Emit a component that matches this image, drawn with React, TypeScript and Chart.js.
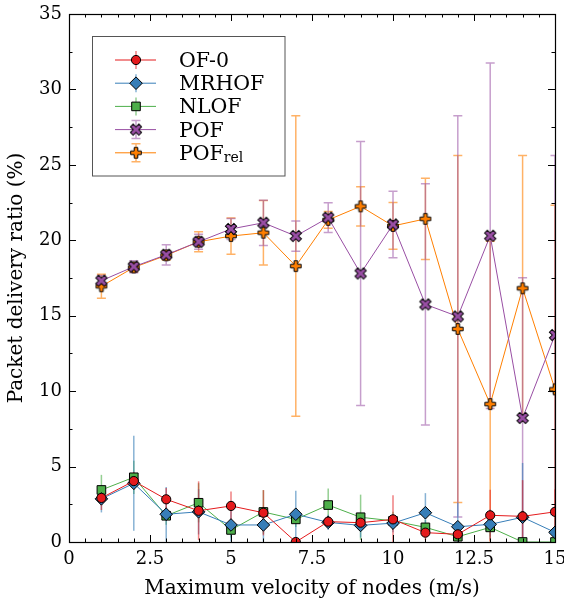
import React, { useEffect, useRef } from "react";
import { Chart, registerables } from "chart.js";

Chart.register(...registerables);

const FONT = "'DejaVu Serif', 'Liberation Serif', serif";
const FONT_SIZE = 18;
const TITLE_FONT_SIZE = 20;
const LEGEND_FONT_SIZE = 20.5;

// ---- data ----
const velocities = [1, 2, 3, 4, 5, 6, 7, 8, 9, 10, 11, 12, 13, 14, 15];

const of0 = [2.92, 4.04, 2.83, 2.07, 2.39, 1.94, 0, 1.35, 1.28, 1.5, 0.62, 0.51, 1.77, 1.7, 2.0];
const of0Err = [0.8, 0.6, 0.75, 1.95, 0.95, 1.5, 0.3, 0.3, 0.5, 1.6, 0.5, 0.3, 1.7, 2.4, 1.5];

const mrhof = [2.86, 3.89, 1.84, 2.0, 1.13, 1.13, 1.84, 1.3, 1.1, 1.25, 1.94, 1.01, 1.17, 1.64, 0.64];
const mrhofErr = [0.9, 3.15, 1.8, 1.5, 1.1, 1.1, 1.56, 0.5, 0.8, 0.6, 1.3, 1.6, 1.0, 3.6, 1.0];

const nlof = [3.45, 4.29, 1.74, 2.6, 0.8, 1.99, 1.5, 2.45, 1.64, 1.4, 0.97, 0.35, 0.97, 0, 0];
const nlofErr = [1.0, 1.1, 0.6, 1.3, 0.5, 1.45, 0.5, 1.1, 1.5, 0.6, 0.5, 0.3, 0.6, 0.2, 0.2];

const pof = [17.32, 18.25, 19.04, 19.9, 20.75, 21.16, 20.28, 21.5, 17.8, 21.05, 15.75, 14.95, 20.3, 8.22, 13.72];
const pofErr = [0.35, 0.4, 0.67, 0.5, 0.7, 1.5, 1.0, 0.98, 8.75, 2.2, 8.0, 13.3, 11.45, 9.3, 11.9];

const pofRel = [16.95, 18.2, 19.0, 19.9, 20.28, 20.5, 18.29, 21.35, 22.25, 20.95, 21.42, 14.12, 9.14, 16.82, 10.12];
const pofRelErr = [0.8, 0.3, 0.3, 0.66, 1.2, 2.14, 9.96, 0.55, 1.3, 1.55, 2.7, 11.5, 10.8, 8.8, 12.2];

const seriesNames = ["OF-0", "MRHOF", "NLOF", "POF", "POF"];
const seriesSub = ["", "", "", "", "rel"];
const seriesColors = ["#e41a1c", "#377eb8", "#4daf4a", "#984ea3", "#ff7f00"];
const seriesErrColors = [
  "rgba(228,26,28,0.55)",
  "rgba(55,126,184,0.6)",
  "rgba(77,175,74,0.6)",
  "rgba(152,78,163,0.55)",
  "rgba(255,127,0,0.6)",
];

const xTickValues = [0, 2.5, 5, 7.5, 10, 12.5, 15];
const yTickValues = [0, 5, 10, 15, 20, 25, 30, 35];

const xTitle = "Maximum velocity of nodes (m/s)";
const yTitle = "Packet delivery ratio (%)";

// ---- marker helpers ----
function crossPath(ctx: CanvasRenderingContext2D, r: number, a: number) {
  const pts = [
    [-a, -r], [a, -r], [a, -a], [r, -a], [r, a], [a, a],
    [a, r], [-a, r], [-a, a], [-r, a], [-r, -a], [-a, -a],
  ];
  ctx.beginPath();
  pts.forEach(([px, py], i) => (i === 0 ? ctx.moveTo(px, py) : ctx.lineTo(px, py)));
  ctx.closePath();
}

function makeMarker(kind: "plus" | "x", fill: string): HTMLCanvasElement {
  const size = 18;
  const c = document.createElement("canvas");
  c.width = size;
  c.height = size;
  const ctx = c.getContext("2d")!;
  ctx.translate(size / 2, size / 2);
  if (kind === "x") {
    ctx.rotate(Math.PI / 4);
    crossPath(ctx, 6.0, 1.95);
  } else {
    crossPath(ctx, 5.3, 1.8);
  }
  ctx.fillStyle = fill;
  ctx.fill();
  ctx.strokeStyle = "#000";
  ctx.lineWidth = 1;
  ctx.lineJoin = "miter";
  ctx.stroke();
  return c;
}

function drawMarker(ctx: CanvasRenderingContext2D, i: number, x: number, y: number, imgs: HTMLCanvasElement[]) {
  ctx.save();
  ctx.fillStyle = seriesColors[i];
  ctx.strokeStyle = "#000";
  ctx.lineWidth = 1;
  if (i === 0) {
    ctx.beginPath();
    ctx.arc(x, y, 4.6, 0, Math.PI * 2);
    ctx.fill();
    ctx.stroke();
  } else if (i === 1) {
    const r = 6.3;
    ctx.beginPath();
    ctx.moveTo(x, y - r);
    ctx.lineTo(x + r, y);
    ctx.lineTo(x, y + r);
    ctx.lineTo(x - r, y);
    ctx.closePath();
    ctx.fill();
    ctx.stroke();
  } else if (i === 2) {
    const h = 4.3;
    ctx.beginPath();
    ctx.rect(x - h, y - h, 2 * h, 2 * h);
    ctx.fill();
    ctx.stroke();
  } else {
    const img = imgs[i - 3];
    ctx.drawImage(img, x - img.width / 2, y - img.height / 2);
  }
  ctx.restore();
}

export default function App() {
  const canvasRef = useRef<HTMLCanvasElement | null>(null);

  useEffect(() => {
    const canvas = canvasRef.current;
    if (!canvas) return;

    const xImg = makeMarker("x", seriesColors[3]);
    const plusImg = makeMarker("plus", seriesColors[4]);
    const imgs = [xImg, plusImg];

    const values = [of0, mrhof, nlof, pof, pofRel];
    const errors = [of0Err, mrhofErr, nlofErr, pofErr, pofRelErr];
    const pointStyles: any[] = ["circle", "rectRot", "rect", xImg, plusImg];
    const radii = [4.6, 6.3, 6.1, 8, 8];

    const datasets = values.map((vals, i) => ({
      label: seriesNames[i] + seriesSub[i],
      data: velocities.map((v, k) => ({ x: v, y: vals[k] })),
      errors: errors[i],
      caps: i >= 3,
      borderColor: seriesColors[i],
      backgroundColor: seriesColors[i],
      borderWidth: 1,
      pointStyle: pointStyles[i],
      pointRadius: radii[i],
      pointHoverRadius: radii[i],
      pointBackgroundColor: seriesColors[i],
      pointBorderColor: "#000",
      pointBorderWidth: 1,
      tension: 0,
      fill: false,
    }));

    const errorBarPlugin = {
      id: "errorBars",
      beforeDatasetsDraw(chart: any) {
        const { ctx, chartArea, scales } = chart;
        const xs = scales.x;
        const ys = scales.y;
        ctx.save();
        ctx.beginPath();
        ctx.rect(chartArea.left, chartArea.top, chartArea.right - chartArea.left, chartArea.bottom - chartArea.top);
        ctx.clip();
        ctx.lineWidth = 1.5;
        for (let i = chart.data.datasets.length - 1; i >= 0; i--) {
          const ds = chart.data.datasets[i];
          ctx.strokeStyle = seriesErrColors[i];
          ds.data.forEach((p: any, k: number) => {
            const e = ds.errors[k];
            const px = xs.getPixelForValue(p.x);
            const y1 = ys.getPixelForValue(p.y - e);
            const y2 = ys.getPixelForValue(p.y + e);
            ctx.beginPath();
            ctx.moveTo(px, y1);
            ctx.lineTo(px, y2);
            if (ds.caps) {
              ctx.moveTo(px - 4.5, y1);
              ctx.lineTo(px + 4.5, y1);
              ctx.moveTo(px - 4.5, y2);
              ctx.lineTo(px + 4.5, y2);
            }
            ctx.stroke();
          });
        }
        ctx.restore();
      },
    };

    const framePlugin = {
      id: "frameTicks",
      afterDatasetsDraw(chart: any) {
        const { ctx, chartArea, scales } = chart;
        const { left, right, top, bottom } = chartArea;
        const xs = scales.x;
        const ys = scales.y;
        ctx.save();
        ctx.strokeStyle = "#000";
        ctx.lineWidth = 1;
        const line = (a: number, b: number, c: number, d: number) => {
          ctx.beginPath();
          ctx.moveTo(a, b);
          ctx.lineTo(c, d);
          ctx.stroke();
        };
        for (let k = 0; k <= 30; k++) {
          const v = k * 0.5;
          const px = Math.round(xs.getPixelForValue(v)) + 0.5;
          const len = k % 5 === 0 ? 7 : 3.5;
          line(px, bottom, px, bottom - len);
          line(px, top, px, top + len);
        }
        for (let k = 0; k <= 14; k++) {
          const v = k * 2.5;
          const py = Math.round(ys.getPixelForValue(v)) + 0.5;
          const len = k % 2 === 0 ? 7 : 3.5;
          line(left, py, left + len, py);
          line(right, py, right - len, py);
        }
        ctx.lineWidth = 1.2;
        ctx.strokeRect(Math.round(left) + 0.5, Math.round(top) + 0.5, Math.round(right - left), Math.round(bottom - top));
        ctx.restore();
      },
      afterDraw(chart: any) {
        const { ctx } = chart;
        ctx.save();
        // legend frame
        ctx.fillStyle = "#fff";
        ctx.fillRect(92.5, 36.5, 192.5, 139.5);
        ctx.strokeStyle = "#555";
        ctx.lineWidth = 1;
        ctx.strokeRect(92.5, 36.5, 192.5, 139.5);
        for (let i = 0; i < 5; i++) {
          const ry = 60 + i * 23.2;
          ctx.strokeStyle = seriesColors[i];
          ctx.lineWidth = 1;
          ctx.beginPath();
          ctx.moveTo(115, ry);
          ctx.lineTo(156, ry);
          ctx.stroke();
          ctx.strokeStyle = seriesErrColors[i];
          ctx.lineWidth = 1.5;
          ctx.beginPath();
          ctx.moveTo(136, ry - 9);
          ctx.lineTo(136, ry + 9);
          if (i >= 3) {
            ctx.moveTo(131.5, ry - 9);
            ctx.lineTo(140.5, ry - 9);
            ctx.moveTo(131.5, ry + 9);
            ctx.lineTo(140.5, ry + 9);
          }
          ctx.stroke();
          drawMarker(ctx, i, 136, ry, imgs);
          ctx.fillStyle = "#000";
          ctx.textBaseline = "alphabetic";
          ctx.textAlign = "left";
          ctx.font = `${LEGEND_FONT_SIZE}px ${FONT}`;
          ctx.fillText(seriesNames[i], 179, ry + 7);
          if (seriesSub[i]) {
            const w = ctx.measureText(seriesNames[i]).width;
            ctx.font = `14px ${FONT}`;
            ctx.fillText(seriesSub[i], 179 + w, ry + 9.5);
          }
        }
        ctx.restore();
      },
    };

    const chart = new Chart(canvas, {
      type: "line",
      data: { datasets: datasets as any },
      plugins: [errorBarPlugin, framePlugin],
      options: {
        animation: false,
        responsive: false,
        maintainAspectRatio: false,
        events: [],
        layout: { padding: { top: 14, right: 8, left: 0, bottom: 0 } },
        plugins: {
          legend: { display: false },
          tooltip: { enabled: false },
          title: { display: false },
        },
        scales: {
          x: {
            type: "linear",
            min: 0,
            max: 15,
            grid: { display: false, drawTicks: false },
            border: { display: false },
            afterBuildTicks: (scale: any) => {
              scale.ticks = xTickValues.map((v) => ({ value: v }));
            },
            ticks: {
              color: "#000",
              padding: 7,
              maxRotation: 0,
              autoSkip: false,
              font: { family: FONT, size: FONT_SIZE },
            },
            title: {
              display: true,
              text: xTitle,
              color: "#000",
              padding: { top: 2, bottom: 0 },
              font: { family: FONT, size: TITLE_FONT_SIZE },
            },
            afterFit: (scale: any) => {
              scale.height = 59;
              scale.paddingLeft = 0;
              scale.paddingRight = 0;
            },
          },
          y: {
            type: "linear",
            min: 0,
            max: 35,
            grid: { display: false, drawTicks: false },
            border: { display: false },
            afterBuildTicks: (scale: any) => {
              scale.ticks = yTickValues.map((v) => ({ value: v }));
            },
            ticks: {
              color: "#000",
              padding: 7,
              autoSkip: false,
              font: { family: FONT, size: FONT_SIZE },
            },
            title: {
              display: true,
              text: yTitle,
              color: "#000",
              padding: { top: 5, bottom: 0 },
              font: { family: FONT, size: TITLE_FONT_SIZE },
            },
            afterFit: (scale: any) => {
              scale.width = 69;
              scale.paddingTop = 0;
              scale.paddingBottom = 0;
            },
          },
        },
      },
    });

    return () => chart.destroy();
  }, []);

  return (
    <div style={{ position: "fixed", left: 0, top: 0, width: 564, height: 601, background: "#fff" }}>
      <canvas ref={canvasRef} width={564} height={601} />
    </div>
  );
}
